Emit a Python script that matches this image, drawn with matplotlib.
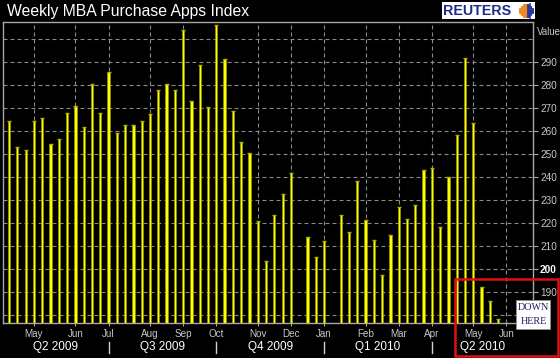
import matplotlib
matplotlib.use("Agg")
import matplotlib.pyplot as plt
import matplotlib.transforms as mtransforms
from matplotlib.patches import Rectangle
import numpy as np
import pandas as pd

nan = np.nan
# Weekly MBA purchase index (weeks ending Friday, from 2009-04-10)
purchase_index = [264.5, 253.3, 251.7, 264.5, 265.9, 254.2, 256.7, 267.7, 270.9, 261.6,
                  280.3, 267.7, 285.7, 259.1, 262.5, 262.5, 264.5, 267.4, 277.8, 280.3,
                  277.8, 304.2, 272.9, 288.6, 270.6, 306.1, 291.2, 268.8, 255.1, 250.6,
                  220.7, 203.6, 223.5, 232.5, 241.9, nan, 213.8, 205.1, 212.3, nan,
                  223.5, 215.9, 238.3, 221.3, 212.8, 197.2, 214.9, 227.1, 221.9, 228.0,
                  243.2, 243.9, 218.3, 240.1, 258.4, 291.6, 263.5, 192.3, 186.2, 178.4]
first_week = "2009-04-10"
axis_weeks = 64
y_ticks = [190, 200, 210, 220, 230, 240, 250, 260, 270, 280, 290]
grid_levels = [180, 190, 200, 210, 220, 230, 240, 250, 260, 270, 280, 290, 300]
quarter_labels = ["Q2 2009", "Q3 2009", "Q4 2009", "Q1 2010", "Q2 2010"]
title = "Weekly MBA Purchase Apps Index"

W, H = 560, 358
def fx(px):
    return px / W
def fy(px):
    return 1 - px / H

weeks = pd.date_range(first_week, periods=axis_weeks, freq="7D")
x = np.arange(len(purchase_index))
month_idx = [i for i in range(1, axis_weeks) if weeks[i].month != weeks[i - 1].month]
month_lab = [weeks[i].strftime("%b") for i in month_idx]
q_idx = [i for i in month_idx if weeks[i].month in (1, 4, 7, 10)]

fig = plt.figure(figsize=(W / 100, H / 100), dpi=100, facecolor="black")
L, R, T, B = 2.7, 533, 21.7, 323.3
ax = fig.add_axes([fx(L), fy(B), fx(R) - fx(L), fy(T) - fy(B)])
ax.set_facecolor("black")
xmin, xmax = -0.77, 63.2
ax.set_xlim(xmin, xmax)
ax.set_ylim(176.4, 307.6)

grid_kw = dict(color="#8a8a8a", lw=0.8, ls=(0, (3.6, 2.7)), zorder=1)
for g in grid_levels:
    ax.axhline(g, **grid_kw)
for i in month_idx:
    ax.axvline(i, **grid_kw)

vals = np.array(purchase_index, dtype=float)
ax.bar(x, vals - 176.4, bottom=176.4, width=0.27, color="#ffff00",
       edgecolor="#8f8f00", linewidth=0.5, zorder=3)
ax.plot(x, vals, ls="none", marker="_", ms=3.5, mew=1.0, color="#b0b000", zorder=4)

for s in ax.spines.values():
    s.set_color("#a8a8a8")
    s.set_linewidth(1.0)

ax.yaxis.tick_right()
ax.set_yticks(y_ticks)
ax.set_yticklabels([str(v) for v in y_ticks])
ax.tick_params(axis="y", direction="out", length=3.6, width=0.8, color="#a8a8a8",
               pad=1.5, labelsize=7.2, labelcolor="#c8c8c8")
for lab in ax.get_yticklabels():
    lab.set_family("Liberation Sans")
    if lab.get_text() == "200":
        lab.set_color("white")
        lab.set_fontweight("bold")
ax.set_xticks(month_idx)
ax.set_xticklabels([""] * len(month_idx))
ax.tick_params(axis="x", direction="out", length=2.5, width=0.8, color="#a8a8a8")

trans = mtransforms.blended_transform_factory(ax.transData, fig.transFigure)
for i, lab in zip(month_idx, month_lab):
    fig.text(i, fy(334), lab, transform=trans, ha="center", va="center",
             fontsize=7.1, color="#c8c8c8", family="Liberation Sans")
bounds = [xmin] + q_idx + [xmax]
for k, q in enumerate(quarter_labels):
    c = (bounds[k] + bounds[k + 1]) / 2
    fig.text(c, fy(347), q, transform=trans, ha="center", va="center",
             fontsize=8.5, color="white", family="Liberation Sans")
for i in q_idx:
    fig.add_artist(plt.Line2D([i, i], [fy(341.7), fy(353.3)], transform=trans,
                              color="#d0d0d0", lw=1.0))

fig.text(fx(7), fy(16), title, ha="left", va="baseline", fontsize=11.3,
         color="white", family="Liberation Sans")
fig.text(fx(537), fy(31.7), "Value", ha="left", va="center", fontsize=7.0,
         color="#c8c8c8", family="Liberation Sans")

# Reuters logo
fig.add_artist(Rectangle((fx(442), fy(19)), fx(535) - fx(442), fy(2) - fy(19),
                         transform=fig.transFigure, facecolor="white", edgecolor="none"))
fig.text(fx(443.5), fy(10.8), "REUTERS", ha="left", va="center", fontsize=10.3,
         fontweight="bold", color="#1c2a8a", family="Liberation Sans")
gx, gy = np.meshgrid(np.arange(-3, 4), np.arange(-3, 4))
m = gx ** 2 + gy ** 2 <= 10
px_ = 526 + gx[m] * 1.9
py_ = 10.5 + gy[m] * 1.9
cols = ["#f08a20" if v < 527 else "#2a3a9a" for v in px_]
fig.add_artist(plt.Line2D([fx(529.5)] * 2, [fy(3.5), fy(17.5)], transform=fig.transFigure,
                          color="#2a3a9a", lw=1.2))
for a, b, c in zip(px_, py_, cols):
    fig.add_artist(plt.Line2D([fx(a)], [fy(b)], transform=fig.transFigure, marker="s",
                              ms=1.2, color=c, ls="none"))

# Highlight box
fig.add_artist(Rectangle((fx(455), fy(355.5)), fx(557.5) - fx(455), fy(279) - fy(355.5),
                         transform=fig.transFigure, facecolor="none", edgecolor="#e01010",
                         lw=1.8, zorder=10))
fig.add_artist(Rectangle((fx(516), fy(329)), fx(550) - fx(516), fy(300) - fy(329),
                         transform=fig.transFigure, facecolor="white", edgecolor="#909090",
                         lw=0.6, zorder=11))
fig.text(fx(533.5), fy(307.5), "DOWN", ha="center", va="center", fontsize=7.3,
         color="#1c1c5c", family="Liberation Serif", zorder=12)
fig.text(fx(533.5), fy(321.5), "HERE", ha="center", va="center", fontsize=7.3,
         color="#1c1c5c", family="Liberation Serif", zorder=12)

fig.savefig("out.png", dpi=100, facecolor="black")
